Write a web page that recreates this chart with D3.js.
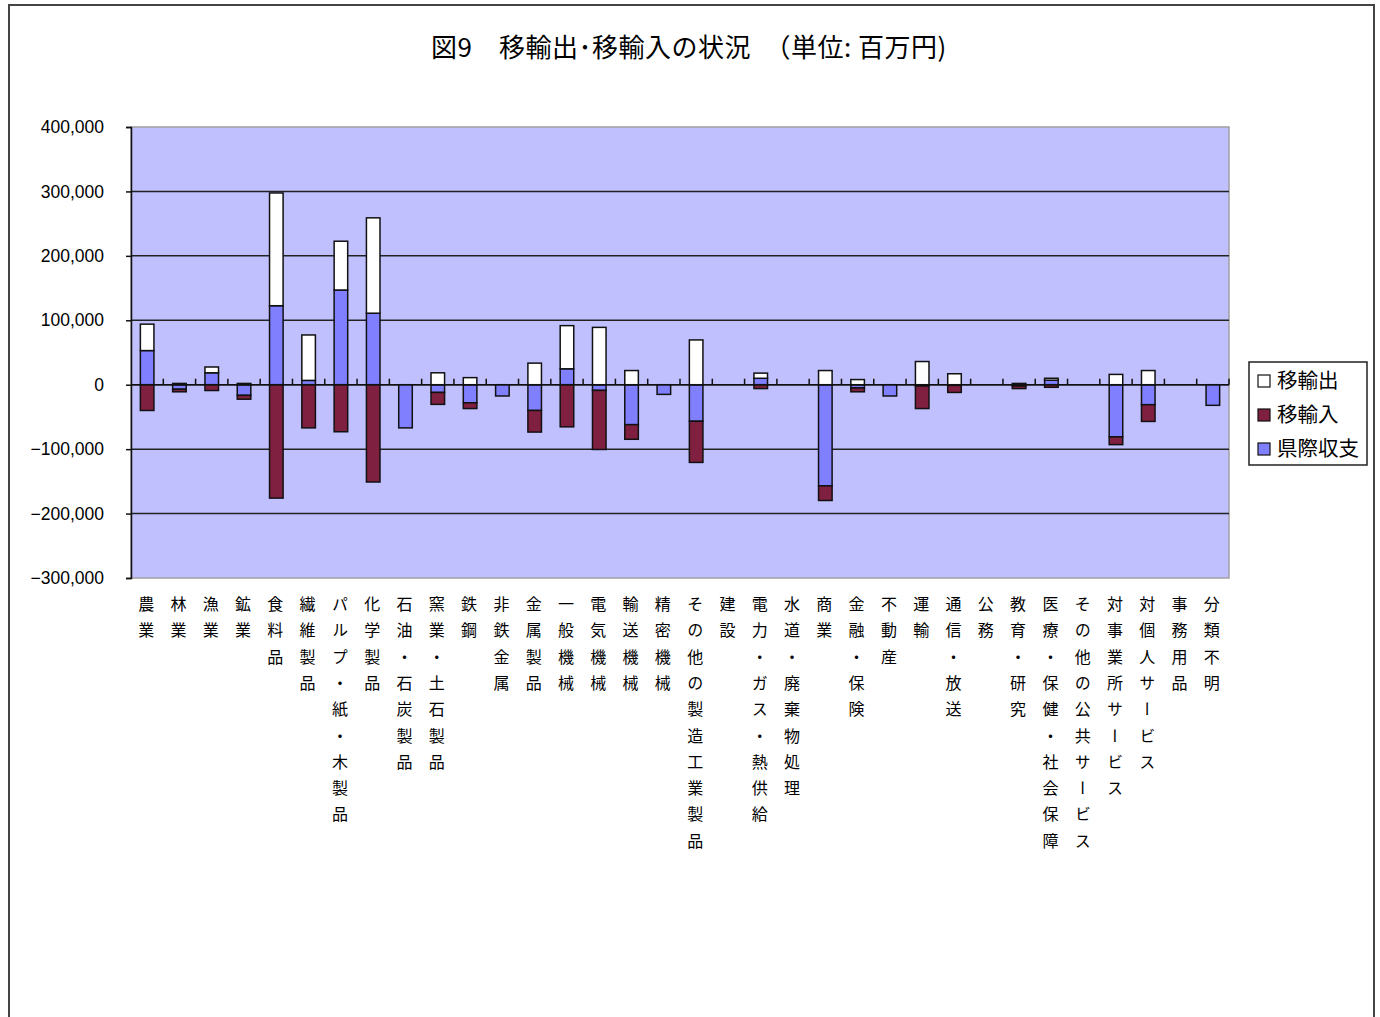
<!DOCTYPE html>
<html lang="ja">
  <head>
    <meta charset="UTF-8" />
    <title>図9 移輸出・移輸入の状況</title>
    <style>
      body { margin: 0; background: #fff; }
      svg { display: block; }
      .ylab { font-family: "Liberation Sans", sans-serif; font-size: 17.5px; fill: #000; }
      .cat { font-family: "Noto Sans CJK JP", sans-serif; font-size: 16px; fill: #000;
             writing-mode: vertical-rl; letter-spacing: 10.3px; }
      .title { font-family: "Noto Sans CJK JP", sans-serif; font-size: 26px; fill: #000; letter-spacing: 0.5px; }
      .leg { font-family: "Noto Sans CJK JP", sans-serif; font-size: 20.5px; fill: #000; }
    </style>
  </head>
  <body>
    <script src="https://cdn.jsdelivr.net/npm/d3@7"></script>
    <script>

      // data (unit: million yen)
      var categories = ["農業", "林業", "漁業", "鉱業", "食料品", "繊維製品", "パルプ・紙・木製品",
        "化学製品", "石油・石炭製品", "窯業・土石製品", "鉄鋼", "非鉄金属", "金属製品", "一般機械",
        "電気機械", "輸送機械", "精密機械", "その他の製造工業製品", "建設", "電力・ガス・熱供給",
        "水道・廃棄物処理", "商業", "金融・保険", "不動産", "運輸", "通信・放送", "公務", "教育・研究",
        "医療・保健・社会保障", "その他の公共サービス", "対事業所サービス", "対個人サービス",
        "事務用品", "分類不明"];

      var exportsVals = [41000, 2000, 9000, 2000, 175000, 70500, 75700, 148000, 0, 18500, 11000, 0,
        33500, 67000, 89000, 22000, 0, 69500, 0, 8000, 0, 22000, 8000, 0, 36000, 17000, 0, 2000,
        3000, 0, 16000, 22000, 0, 0];

      var importsVals = [-40000, -4000, -9000, -6000, -176000, -67000, -73000, -151000, 0, -18500,
        -9000, 0, -33500, -65400, -91700, -22700, 0, -63900, 0, -6000, 0, -22700, -6000, 0, -35000,
        -11000, 0, -4000, -4000, 0, -12000, -26000, 0, 0];

      var balanceVals = [53000, -7000, 18500, -16500, 122600, 6700, 147000, 111000, -67000, -12000,
        -28000, -17500, -40000, 24700, -8800, -62000, -15000, -56700, 0, 10000, 0, -157000, -5000,
        -17500, -2000, -1000, 0, -2000, 7000, 0, -81000, -31000, 0, -32000];

      var yTicks = [400000, 300000, 200000, 100000, 0, -100000, -200000, -300000];

      var seriesKeys = ["balance", "imports", "exports"];          // stacking order
      var legendKeys = ["exports", "imports", "balance"];          // legend order
      var seriesNames = { exports: "移輸出", imports: "移輸入", balance: "県際収支" };
      var colors = { exports: "#ffffff", imports: "#802040", balance: "#8080ff" };

      var W = 1380, H = 1017;
      var plot = { left: 131, right: 1229, top: 127, bottom: 578 };

      var svg = d3.select("body").append("svg")
        .attr("width", W)
        .attr("height", H);

      // outer chart frame
      svg.append("rect")
        .attr("x", 9).attr("y", 5)
        .attr("width", 1365).attr("height", 1030)
        .attr("fill", "#fff")
        .attr("stroke", "#444")
        .attr("stroke-width", 2);

      svg.append("text")
        .attr("class", "title")
        .attr("x", 689).attr("y", 57)
        .attr("text-anchor", "middle")
        .text("図9　移輸出･移輸入の状況　（単位: 百万円)");

      var table = categories.map(function(c, i) {
        return { cat: c, exports: exportsVals[i], imports: importsVals[i], balance: balanceVals[i] };
      });

      var stacked = d3.stack()
        .keys(seriesKeys)
        .offset(d3.stackOffsetDiverging)(table);

//scales
      var x = d3.scaleBand()
        .domain(categories)
        .range([plot.left, plot.right])
        .paddingInner(0.58)
        .paddingOuter(0.29);

      var y = d3.scaleLinear()
        .domain([-300000, 400000])
        .range([plot.bottom, plot.top]);

      // plot background
      svg.append("rect")
        .attr("x", plot.left).attr("y", plot.top)
        .attr("width", plot.right - plot.left)
        .attr("height", plot.bottom - plot.top)
        .attr("fill", "#c0c0ff")
        .attr("stroke", "#a0a0a0")
        .attr("stroke-width", 1.5);

      // gridlines
      svg.append("g")
        .selectAll("line")
        .data(yTicks.filter(function(t) { return t < 400000 && t > -300000; }))
        .enter().append("line")
        .attr("x1", plot.left).attr("x2", plot.right)
        .attr("y1", function(d) { return y(d); })
        .attr("y2", function(d) { return y(d); })
        .attr("stroke", "#222")
        .attr("stroke-width", 1.5);

//paint bars
      svg.append("g")
        .selectAll("g")
        .data(stacked)
        .enter().append("g")
        .attr("fill", function(s) { return colors[s.key]; })
        .selectAll("rect")
        .data(function(s) { return s.filter(function(d) { return d[1] - d[0] !== 0; }); })
        .enter().append("rect")
        .attr("x", function(d) { return x(d.data.cat); })
        .attr("y", function(d) { return y(Math.max(d[0], d[1])); })
        .attr("width", x.bandwidth())
        .attr("height", function(d) { return Math.abs(y(d[0]) - y(d[1])); })
        .attr("stroke", "#111")
        .attr("stroke-width", 1.5);

//paint axis
      var zeroY = y(0);
      svg.append("line")
        .attr("x1", plot.left).attr("x2", plot.right)
        .attr("y1", zeroY).attr("y2", zeroY)
        .attr("stroke", "#111").attr("stroke-width", 1.5);

      // category ticks (pointing up from the zero line)
      svg.append("g")
        .selectAll("line")
        .data(d3.range(1, categories.length + 1))
        .enter().append("line")
        .attr("x1", function(i) { return plot.left + i * x.step(); })
        .attr("x2", function(i) { return plot.left + i * x.step(); })
        .attr("y1", zeroY).attr("y2", zeroY - 6)
        .attr("stroke", "#111").attr("stroke-width", 1.5);

      var yAxis = d3.axisLeft(y)
        .tickValues(yTicks)
        .tickSize(5)
        .tickFormat(d3.format(","));
      var gy = svg.append("g")
        .attr("transform", "translate(" + plot.left + ",0)")
        .call(yAxis);
      gy.select(".domain").attr("stroke", "#111").attr("stroke-width", 1.5);
      gy.selectAll(".tick line").attr("stroke", "#111").attr("stroke-width", 1.5);
      gy.selectAll(".tick text")
        .attr("class", "ylab")
        .attr("x", -27)
        .attr("font-family", null).attr("font-size", null);

//category labels
      svg.append("g")
        .selectAll("text")
        .data(categories)
        .enter().append("text")
        .attr("class", "cat")
        .attr("x", function(d) { return x(d) + x.bandwidth() / 2 - 1; })
        .attr("y", 596)
        .text(function(d) { return d; });

//legend
      var leg = svg.append("g").attr("transform", "translate(1249,362)");
      leg.append("rect")
        .attr("width", 118).attr("height", 103)
        .attr("fill", "#fff")
        .attr("stroke", "#222").attr("stroke-width", 1.5);
      var items = leg.selectAll("g.item")
        .data(legendKeys)
        .enter().append("g")
        .attr("class", "item")
        .attr("transform", function(d, i) { return "translate(0," + (19 + i * 34) + ")"; });
      items.append("rect")
        .attr("x", 9).attr("y", -6)
        .attr("width", 12).attr("height", 12)
        .attr("fill", function(d) { return colors[d]; })
        .attr("stroke", "#111").attr("stroke-width", 1.2);
      items.append("text")
        .attr("class", "leg")
        .attr("x", 28).attr("y", 7)
        .text(function(d) { return seriesNames[d]; });

    </script>
  </body>
</html>
